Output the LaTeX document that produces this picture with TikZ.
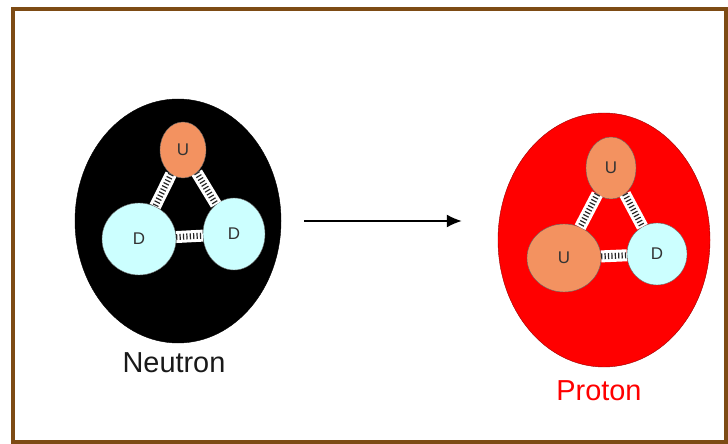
\documentclass[tikz,border=0pt]{standalone}
\usepackage{fontspec}
\setmainfont{Liberation Sans}
\usetikzlibrary{shapes.geometric, arrows.meta}
\definecolor{framebrown}{RGB}{125,75,20}
\definecolor{upq}{RGB}{243,146,96}
\definecolor{downq}{RGB}{204,255,255}
\begin{document}
\begin{tikzpicture}[>={Latex[length=15bp, width=13bp]}, x=1bp, y=-1bp,
    particle/.style={ellipse, inner sep=0pt, draw=#1!60!black, fill=#1},
    quark/.style={ellipse, inner sep=0pt, draw=black!60, fill=#1, font=\fontsize{17}{17}\selectfont, text=black!80},
    bond/.style={line width=12bp, white},
    hatch/.style={line width=6bp, black!85, dash pattern=on 1.2bp off 2.2bp}]
    \useasboundingbox (0,0) rectangle (728,444);
    \draw[framebrown, line width=4bp] (13,9) rectangle (726,442);
    % neutron
    \node[particle=black, minimum width=206bp, minimum height=244bp] (neutron) at (178,221) {};
    \node[quark=upq, minimum width=46bp, minimum height=56bp] (nu) at (183,150) {U};
    \node[quark=downq, minimum width=74bp, minimum height=72bp] (ndl) at (139,239) {D};
    \node[quark=downq, minimum width=62bp, minimum height=72bp] (ndr) at (234,234) {D};
    \node[font=\fontsize{29}{30}\selectfont, text=black!90] (nlabel) at (174,363) {Neutron};
    % proton
    \node[particle=red, minimum width=212bp, minimum height=254bp] (proton) at (604,240) {};
    \node[quark=upq, minimum width=50bp, minimum height=62bp] (pu) at (611,168) {U};
    \node[quark=upq, minimum width=74bp, minimum height=68bp] (pul) at (564,258) {U};
    \node[quark=downq, minimum width=60bp, minimum height=62bp] (pd) at (657,254) {D};
    \node[font=\fontsize{29}{30}\selectfont, text=red] (plabel) at (599,391) {Proton};
    % gluon bonds
    \foreach \a/\b in {nu/ndl, nu/ndr, ndl/ndr, pu/pul, pu/pd, pul/pd}{
        \draw[bond] (\a) -- (\b);
        \draw[hatch] (\a) -- (\b);
    }
    \draw[->, line width=1.5bp] ([xshift=23bp]neutron.east) -- ([xshift=-36bp]neutron.east -| proton.west);
\end{tikzpicture}
\end{document}
